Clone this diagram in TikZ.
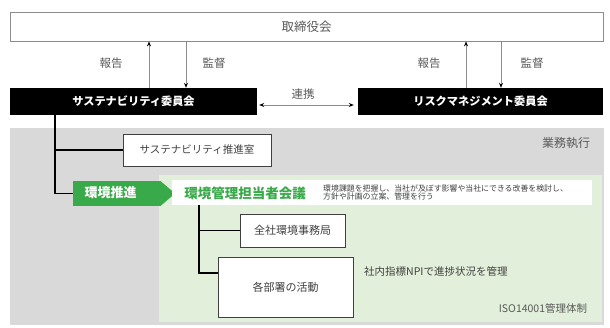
\documentclass[tikz,border=0pt]{standalone}
\usepackage{fontspec}
\setmainfont{Noto Sans CJK JP}
\usetikzlibrary{arrows.meta}
\definecolor{greenA}{RGB}{57,170,73}
\definecolor{greenL}{RGB}{226,239,218}
\definecolor{grayBG}{RGB}{217,217,217}
\definecolor{txtG}{RGB}{89,89,89}
\definecolor{boxB}{RGB}{64,64,64}
\tikzset{
  box/.style={draw=boxB, line width=0.9pt, fill=white, inner sep=0pt, text=boxB},
  blk/.style={fill=black, inner sep=0pt, text=white, font=\bfseries\fontsize{11.2}{13}\selectfont},
  lbl/.style={inner sep=0pt, text=txtG, font=\fontsize{11.5}{13}\selectfont},
  conn/.style={line width=1.4pt, black},
  arr/.style={draw=gray!90, line width=0.8pt, -{Stealth[length=5pt,width=4pt,black]}},
  arrb/.style={draw=gray!90, line width=0.8pt, {Stealth[length=5pt,width=4pt,black]}-{Stealth[length=5pt,width=4pt,black]}}
}
\begin{document}
\begin{tikzpicture}[x=1pt,y=-1pt]
\useasboundingbox (0,0) rectangle (610,328);
% regions
\fill[grayBG] (10,128) rectangle (604,325);
\fill[greenL] (159,175) rectangle (602,322);
% top board
\node[draw=gray!90, line width=0.8pt, fill=white, minimum width=593pt, minimum height=29pt, inner sep=0pt, text=txtG, font=\fontsize{12.5}{14}\selectfont] (board) at (306.5,26.5) {取締役会};
% committees
\node[blk, minimum width=247pt, minimum height=27pt] (sus) at (133.5,101.5) {サステナビリティ委員会};
\node[blk, minimum width=245pt, minimum height=27pt] (risk) at (480.5,101.5) {リスクマネジメント委員会};
% arrow columns
\coordinate (c1) at (149,0);
\coordinate (c2) at (186,0);
\coordinate (c3) at (466,0);
\coordinate (c4) at (501,0);
\draw[arr] (sus.north -| c1) -- (board.south -| c1);
\draw[arr] (board.south -| c2) -- (sus.north -| c2);
\draw[arr] (risk.north -| c3) -- (board.south -| c3);
\draw[arr] (board.south -| c4) -- (risk.north -| c4);
\node[lbl] (rep1) at (111,63) {報告};
\node[lbl] (sup1) at (214,63) {監督};
\node[lbl] (rep2) at (429,63) {報告};
\node[lbl] (sup2) at (532,63) {監督};
\draw[arrb] ([xshift=2pt,yshift=-3.5pt]sus.east) -- ([xshift=-4pt,yshift=-3.5pt]risk.west);
\node[lbl] (link) at (303,94) {連携};
% execution label
\node[lbl, font=\fontsize{12}{13}\selectfont] (gyomu) at (566,143) {業務執行};
\node[lbl, font=\fontsize{10.5}{12}\selectfont] (iso) at (543,308) {ISO14001管理体制};
% sustainability office
\node[box, minimum width=148pt, minimum height=32pt, font=\fontsize{10.5}{12}\selectfont] (office) at (197,150) {サステナビリティ推進室};
% green arrow
\node[fill=greenA, minimum width=87pt, minimum height=25pt, inner sep=0pt] (envbox) at (116.5,193.5) {};
\fill[greenA] (envbox.north east) -- (175,193.5) -- (envbox.south east) -- cycle;
\node[inner sep=0pt, text=white, font=\bfseries\fontsize{13}{15}\selectfont] (envtxt) at (110.5,193) {環境推進};
% left tree
\coordinate (v1) at (55,0);
\draw[conn] (sus.south -| v1) |- (envbox.west);
\draw[conn] (v1 |- office.west) -- (office.west);
% management meeting
\node[fill=white, minimum width=420pt, minimum height=25pt, inner sep=0pt] (kanri) at (382,192.5) {};
\node[inner sep=0pt, text=greenA, font=\bfseries\fontsize{13.5}{15}\selectfont] (kanriT) at (245,193) {環境管理担当者会議};
\node[anchor=west, inner sep=0pt, text=boxB, align=left, font=\fontsize{7.9}{8.8}\selectfont] (desc) at (323,192.5) {環境課題を把握し、当社が及ぼす影響や当社にできる改善を検討し、\\方針や計画の立案、管理を行う};
% lower boxes
\node[box, minimum width=105pt, minimum height=33pt, font=\fontsize{11}{12}\selectfont] (zen) at (292.5,230.5) {全社環境事務局};
\node[box, minimum width=135pt, minimum height=60pt, font=\fontsize{11}{12}\selectfont] (kaku) at (285.5,287) {各部署の活動};
\coordinate (v2) at (199,0);
\coordinate (b2) at (199,273);
\draw[conn] (kanri.south -| v2) -- (b2) -- (b2 -| kaku.west);
\draw[conn] (v2 |- zen.west) -- (zen.west);
\node[anchor=west, inner sep=0pt, text=boxB, font=\fontsize{10.5}{12}\selectfont] (npi) at (364,271) {社内指標NPIで進捗状況を管理};
\end{tikzpicture}
\end{document}
